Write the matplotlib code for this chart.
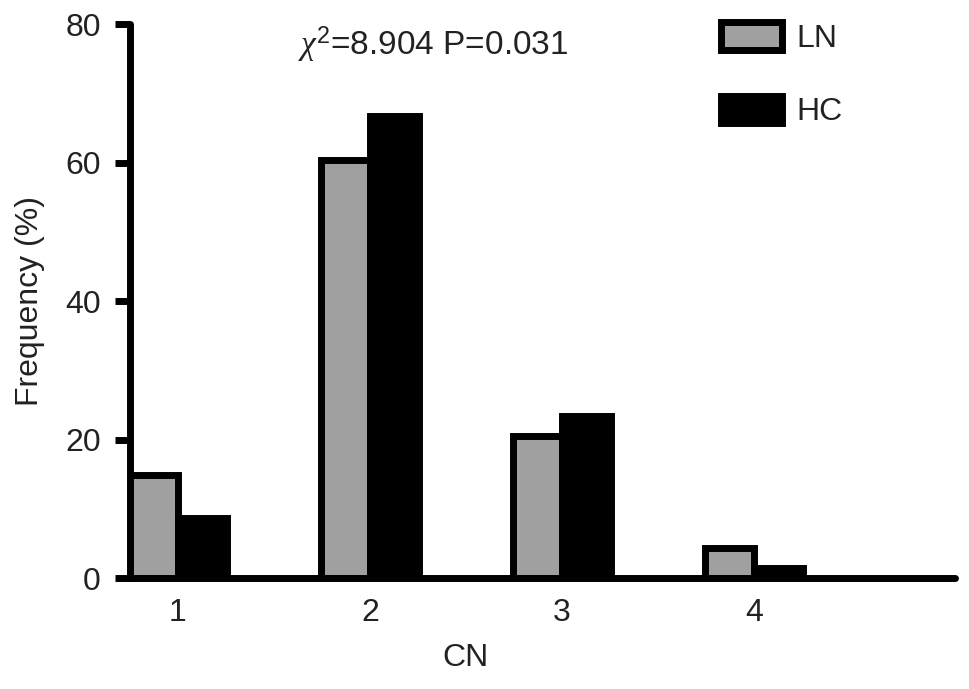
import matplotlib
matplotlib.use("Agg")
import matplotlib.pyplot as plt
import numpy as np

# данные с графика
categories = ["1", "2", "3", "4"]
ln_values = [14.9, 60.4, 20.5, 4.3]
hc_values = [8.7, 66.8, 23.4, 1.4]
y_ticks = [0, 20, 40, 60, 80]

plt.rcParams['font.family'] = ['Liberation Sans', 'DejaVu Sans']
plt.rcParams['mathtext.fontset'] = 'custom'
plt.rcParams['mathtext.rm'] = 'Liberation Sans'
plt.rcParams['mathtext.it'] = 'Liberation Serif:italic'

fs = 23

fig = plt.figure(figsize=(9.7, 6.89), dpi=100)
ax = fig.add_axes([0.134, 0.161, 0.851, 0.804])

x = np.arange(1, len(categories) + 1)
w = 0.255
ax.bar(x - w / 2, ln_values, w, color='#a0a0a0', edgecolor='black',
       linewidth=5, label='LN', zorder=2)
ax.bar(x + w / 2, hc_values, w, color='black', edgecolor='black',
       linewidth=5, label='HC', zorder=2)

ax.set_xlim(0.75, 5.05)
ax.set_ylim(0, 80)
ax.set_xticks(x)
ax.set_xticklabels(categories)
ax.set_yticks(y_ticks)

for side in ['top', 'right']:
    ax.spines[side].set_visible(False)
for side in ['left', 'bottom']:
    ax.spines[side].set_linewidth(5)
    ax.spines[side].set_capstyle('round')
    ax.spines[side].set_zorder(3)

ax.tick_params(axis='y', length=11, width=5, pad=10, labelsize=fs,
               colors='black', labelcolor='#222222')
ax.tick_params(axis='x', length=0, pad=14, labelsize=fs, labelcolor='#222222')
for t in ax.yaxis.get_ticklines():
    t.set_solid_capstyle('round')

ax.set_ylabel('Frequency (%)', fontsize=fs, color='#222222')
ax.yaxis.set_label_coords(-0.103, 0.5)
ax.set_xlabel('CN', fontsize=fs, color='#222222')
ax.xaxis.set_label_coords(0.407, -0.118)

ax.text(0.367, 0.963, r'$\chi^2$=8.904 P=0.031', transform=ax.transAxes,
        ha='center', va='center', fontsize=24, color='#222222')

leg = ax.legend(loc='upper left', bbox_to_anchor=(0.681, 1.055), frameon=False,
                fontsize=fs, handlelength=1.9, handleheight=0.95,
                labelspacing=1.3, handletextpad=0.45)
for txt in leg.get_texts():
    txt.set_color('#222222')

fig.savefig('out.png', dpi=100)
